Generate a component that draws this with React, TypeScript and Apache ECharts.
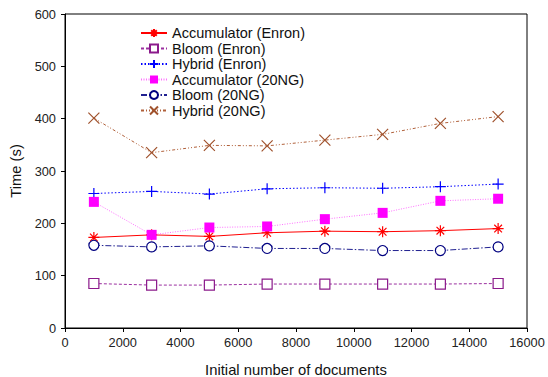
import React, { useEffect, useRef } from "react";
import * as echarts from "echarts";

const xValues = [1000, 3000, 5000, 7000, 9000, 11000, 13000, 15000];
const seriesNames = [
  "Accumulator (Enron)",
  "Bloom (Enron)",
  "Hybrid (Enron)",
  "Accumulator (20NG)",
  "Bloom (20NG)",
  "Hybrid (20NG)",
];
const accEnron = [173, 178, 175, 182, 185, 184, 186, 190];
const bloomEnron = [85, 82, 82, 84, 84, 84, 84, 85];
const hybridEnron = [257, 261, 256, 266, 268, 267, 270, 275];
const acc20ng = [241, 178, 192, 194, 208, 220, 243, 247];
const bloom20ng = [158, 155, 157, 152, 152, 148, 148, 155];
const hybrid20ng = [401, 335, 349, 348, 359, 370, 391, 404];

const FONT = "'Liberation Sans', Arial, Helvetica, sans-serif";

const ASTERISK = "path://M5 0L5 10M0 5L10 5M1.5 1.5L8.5 8.5M8.5 1.5L1.5 8.5";
const PLUS = "path://M5 0L5 10M0 5L10 5";
const CROSS = "path://M0 0L10 10M10 0L0 10";

function pts(vals: number[]) {
  return vals.map((v, i) => [xValues[i], v]);
}

export default function App() {
  const ref = useRef<HTMLDivElement>(null);
  useEffect(() => {
    if (!ref.current) return;
    const chart = echarts.init(ref.current, undefined, { renderer: "svg" });
    const mk = (
      name: string,
      vals: number[],
      lineColor: string,
      dash: any,
      symbol: string,
      size: number,
      fill: string,
      border: string,
      bw: number
    ) => ({
      name,
      type: "line",
      data: pts(vals),
      symbol,
      symbolSize: size,
      showAllSymbol: true,
      lineStyle: { color: lineColor, width: 1, type: dash },
      itemStyle: { color: fill, borderColor: border, borderWidth: bw },
      emphasis: { disabled: true },
    });
    chart.setOption({
      animation: false,
      backgroundColor: "#fff",
      textStyle: { fontFamily: FONT },
      grid: {
        left: 65,
        right: 21,
        top: 14,
        bottom: 49,
        show: true,
        borderColor: "#000",
        borderWidth: 1,
        outerBoundsMode: "none",
        containLabel: false,
      },
      legend: {
        orient: "vertical",
        left: 135,
        top: 20.5,
        itemWidth: 26,
        itemHeight: 10,
        itemGap: 0.5,
        textStyle: { fontFamily: FONT, fontSize: 14.5, color: "#111", lineHeight: 15 },
        data: seriesNames,
      },
      xAxis: {
        type: "value",
        min: 0,
        max: 16000,
        interval: 2000,
        name: "Initial number of documents",
        nameLocation: "middle",
        nameGap: 34,
        nameTextStyle: { fontFamily: FONT, fontSize: 14.8, color: "#111" },
        axisLine: { show: true, lineStyle: { color: "#000", width: 1 } },
        axisTick: { show: true, inside: false, length: 4, lineStyle: { color: "#000" } },
        axisLabel: { fontFamily: FONT, fontSize: 12.8, color: "#222", margin: 8, formatter: (v: number) => String(v) },
        splitLine: { show: false },
      },
      yAxis: {
        type: "value",
        min: 0,
        max: 600,
        interval: 100,
        name: "Time (s)",
        nameLocation: "middle",
        nameGap: 40,
        nameTextStyle: { fontFamily: FONT, fontSize: 14.8, color: "#111" },
        axisLine: { show: true, lineStyle: { color: "#000", width: 1 } },
        axisTick: { show: true, inside: false, length: 4, lineStyle: { color: "#000" } },
        axisLabel: { fontFamily: FONT, fontSize: 12.8, color: "#222", margin: 9 },
        splitLine: { show: false },
      },
      series: [
        mk(seriesNames[0], accEnron, "#ff0000", "solid", ASTERISK, 11, "#ff0000", "#ff0000", 1.2),
        mk(seriesNames[1], bloomEnron, "#9b30a0", [3, 2], "rect", 10, "#ffffff", "#8b1a8b", 1.2),
        mk(seriesNames[2], hybridEnron, "#0000ff", [1.5, 2], PLUS, 11, "#0000ff", "#0000ff", 1.2),
        mk(seriesNames[3], acc20ng, "#ff70ff", [1, 1.5], "rect", 10, "#ff00ff", "#ff00ff", 0),
        mk(seriesNames[4], bloom20ng, "#202090", [6, 2, 1.5, 2], "circle", 10, "#ffffff", "#000080", 1.2),
        mk(seriesNames[5], hybrid20ng, "#b0603a", [3, 2, 1, 2, 1, 2], CROSS, 11, "#a0522d", "#a0522d", 1.2),
      ],
    });
    return () => chart.dispose();
  }, []);
  return <div ref={ref} style={{ position: "fixed", left: 0, top: 0, width: 548, height: 377 }} />;
}
